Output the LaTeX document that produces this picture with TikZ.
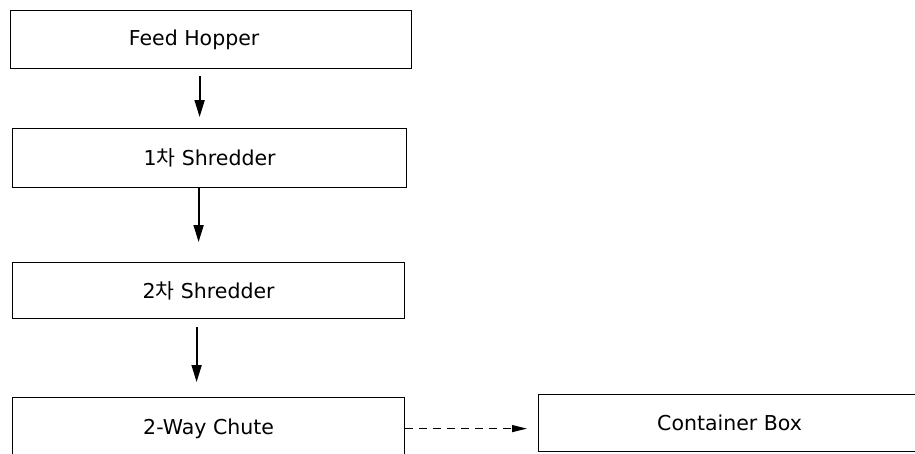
\documentclass[tikz,border=0pt]{standalone}
\usepackage{fontspec}
\setmainfont{DejaVu Sans}
\newfontfamily\kr{Noto Sans CJK KR}
\usetikzlibrary{arrows.meta,positioning}
\tikzset{
  box/.style={draw=black,line width=1.2pt,anchor=north west,inner sep=0pt,font=\fontsize{20.5}{24}\selectfont},
  ar/.style={-{Triangle[length=17pt,width=10pt]},line width=1.8pt},
  dar/.style={-{Triangle[length=15pt,width=7pt]},line width=1.3pt,dash pattern=on 8pt off 6pt},
}
\begin{document}
\begin{tikzpicture}[x=1pt,y=-1pt]
\clip (0,0) rectangle (915,453);
\fill[white] (0,0) rectangle (915,453);
\node[box,minimum width=401pt,minimum height=58pt] (fh) at (10,10) {Feed Hopper\hspace*{34pt}};
\node[box,minimum width=394pt,minimum height=59pt] (s1) at (12,128) {1{\kr 차} Shredder};
\node[box,minimum width=392pt,minimum height=56pt] (s2) at (12,262) {2{\kr 차} Shredder};
\node[box,minimum width=392pt,minimum height=62pt] (ch) at (12,397) {2-Way Chute};
\node[box,minimum width=382pt,minimum height=57pt] (cb) at (538,394) {Container Box};
\draw[ar,shorten <=7pt,shorten >=11pt] ([xshift=-11.5pt]fh.south) -- ([xshift=-10pt]s1.north);
\draw[ar,shorten >=20pt] ([xshift=-11pt]s1.south) -- ([xshift=-10pt]s2.north);
\draw[ar,shorten <=8pt,shorten >=15pt] ([xshift=-12pt]s2.south) -- ([xshift=-12pt]ch.north);
\draw[dar,shorten >=11pt] (ch.east) -- (ch.east -| cb.west);
\end{tikzpicture}
\end{document}
